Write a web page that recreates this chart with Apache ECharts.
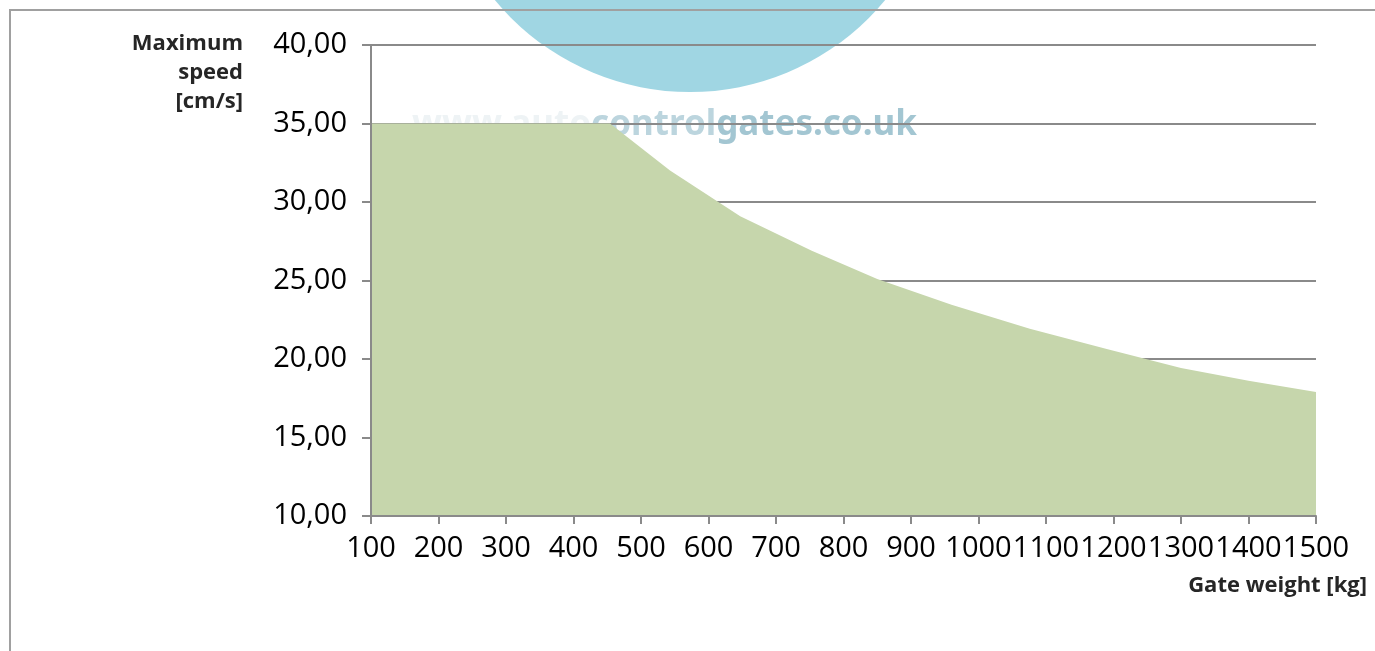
<!DOCTYPE html>
<html>
<head>
<meta charset="utf-8">
<script src="https://cdn.jsdelivr.net/npm/echarts@6/dist/echarts.min.js"></script>
<style>
  html, body { margin: 0; padding: 0; background: #ffffff; }
  #chart { width: 1375px; height: 651px; }
</style>
</head>
<body>
<div id="chart"></div>
<script>
// Data
var weights = [100, 454, 543, 647, 753, 850, 960, 1076, 1190, 1300, 1400, 1500];
var speeds  = [35.0, 35.0, 32.0, 29.1, 26.9, 25.1, 23.45, 21.92, 20.64, 19.42, 18.62, 17.9];
var xTicks = [100, 200, 300, 400, 500, 600, 700, 800, 900, 1000, 1100, 1200, 1300, 1400, 1500];
var yTicks = [10, 15, 20, 25, 30, 35, 40];
var yAxisTitle = 'Maximum\nspeed\n[cm/s]';
var xAxisTitle = 'Gate weight [kg]';
var watermarkParts = ['www.auto', 'control', 'gates.co.uk'];

var points = weights.map(function (w, i) { return [w, speeds[i]]; });
var fontFam = '"Open Sans", "Noto Sans", sans-serif';

var chart = echarts.init(document.getElementById('chart'), null, { renderer: 'canvas' });
var gray = '#8a8a8a';
var wmFont = { fontSize: 35, fontWeight: 'bold', fontFamily: '"Noto Sans", sans-serif' };

var option = {
  backgroundColor: '#ffffff',
  animation: false,
  grid: { left: 371, right: 59, top: 45, bottom: 135 },
  xAxis: {
    type: 'value',
    min: xTicks[0],
    max: xTicks[xTicks.length - 1],
    interval: 100,
    z: 3,
    axisLine: { show: true, lineStyle: { color: gray, width: 2 } },
    axisTick: { show: true, length: 8, lineStyle: { color: gray, width: 2 } },
    splitLine: { show: false },
    axisLabel: {
      color: '#000000', fontSize: 29, fontFamily: fontFam, margin: 18,
      formatter: function (v) { return String(v); }
    }
  },
  yAxis: [{
    type: 'value',
    min: yTicks[0],
    max: yTicks[yTicks.length - 1],
    interval: 5,
    z: 3,
    axisLine: { show: true, lineStyle: { color: gray, width: 2 } },
    axisTick: { show: true, length: 9, lineStyle: { color: gray, width: 2 } },
    splitLine: { show: false },
    axisLabel: {
      color: '#000000', fontSize: 29, fontFamily: fontFam, margin: 24,
      formatter: function (v) { return v.toFixed(2).replace('.', ','); }
    }
  }, {
    type: 'value',
    min: yTicks[0],
    max: yTicks[yTicks.length - 1],
    interval: 5,
    position: 'left',
    z: 0,
    axisLine: { show: false },
    axisTick: { show: false },
    axisLabel: { show: false },
    splitLine: { show: true, lineStyle: { color: gray, width: 2 } }
  }],
  graphic: [
    {
      type: 'circle', z: -10, silent: true,
      shape: { cx: 690, cy: -161, r: 253 },
      style: { fill: '#a0d6e3' }
    },
    {
      type: 'text', z: -9, silent: true,
      x: 412, y: 108,
      style: {
        text: '{a|' + watermarkParts[0] + '}{b|' + watermarkParts[1] + '}{c|' + watermarkParts[2] + '}',
        rich: {
          a: Object.assign({ fill: '#eef3f5' }, wmFont),
          b: Object.assign({ fill: '#bcd5de' }, wmFont),
          c: Object.assign({ fill: '#a3c6d2' }, wmFont)
        }
      }
    },
    {
      type: 'rect', z: 10, silent: true,
      shape: { x: 10, y: 10, width: 1400, height: 700 },
      style: { fill: 'none', stroke: '#a0a0a0', lineWidth: 2 }
    },
    {
      type: 'text', z: 10, silent: true,
      x: 243, y: 29,
      style: {
        text: yAxisTitle,
        font: 'bold 22px ' + fontFam,
        fill: '#262626',
        align: 'right',
        verticalAlign: 'top',
        lineHeight: 29
      }
    },
    {
      type: 'text', z: 10, silent: true,
      x: 1367, y: 586,
      style: {
        text: xAxisTitle,
        font: 'bold 22px ' + fontFam,
        fill: '#262626',
        align: 'right',
        verticalAlign: 'middle'
      }
    }
  ],
  series: [{
    type: 'line',
    data: points,
    xAxisIndex: 0,
    yAxisIndex: 0,
    showSymbol: false,
    symbol: 'none',
    lineStyle: { width: 0, color: '#c6d6ac' },
    itemStyle: { color: '#c6d6ac' },
    areaStyle: { color: '#c6d6ac', opacity: 1, origin: 'start' },
    z: 2
  }]
};

chart.setOption(option);
</script>
</body>
</html>
